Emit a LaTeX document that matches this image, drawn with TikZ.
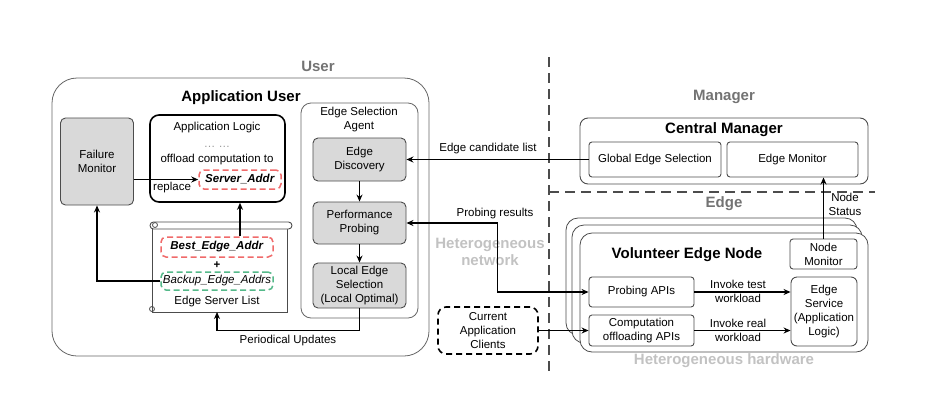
\documentclass[tikz,border=0pt]{standalone}
\usepackage{fontspec}
\setmainfont{Liberation Sans}
\usepackage{xcolor}
\usepackage{tikz}
\usetikzlibrary{arrows.meta, calc, positioning}
\definecolor{boxgray}{HTML}{D9D9D9}
\definecolor{addrred}{HTML}{F06A6A}
\definecolor{addrgreen}{HTML}{55B98A}
\newcommand{\bodyfont}{\fontsize{11.5}{14}\selectfont}
\newcommand{\headfont}{\fontsize{15}{17}\selectfont\bfseries}
\tikzset{
    block/.style={draw=black!70, rounded corners=3pt, line width=0.9pt, align=center, inner sep=1pt, font=\bodyfont},
    graybox/.style={block, fill=boxgray, rounded corners=5pt},
    container/.style={draw=black!60, line width=0.8pt, fill=white},
    addr/.style={dash pattern=on 6pt off 3.5pt, line width=1.5pt, rounded corners=5pt, minimum width=112pt, inner sep=1pt, font=\bodyfont},
    conn/.style={line width=1.6pt, -{Stealth[length=7pt,width=6pt]}},
    zone/.style={text=black!55, font=\headfont},
    hetero/.style={text=black!24, font=\headfont, align=center},
    title/.style={font=\headfont},
    txt/.style={font=\bodyfont, align=center, inner sep=1pt},
    divider/.style={dash pattern=on 10pt off 6pt, line width=1.8pt, draw=black!70}
}

\begin{document}
\begin{tikzpicture}[x=1pt, y=-1pt]
    \useasboundingbox (0,0) rectangle (925,413);
    % user side
    \node[zone] (userlbl) at (318,66) {User};
    \node[container, rounded corners=25pt, minimum width=377pt, minimum height=278pt] (user) at (240.5,217) {};
    \node[title] (appuser) at (241,98) {Application User};
    \node[graybox, minimum width=73pt, minimum height=87pt] (failmon) at (97,161.5) {Failure\\Monitor};
    \node[block, draw=black, line width=1.6pt, rounded corners=9pt, minimum width=135pt, minimum height=87pt] (applogic) at (217.5,158.5) {};
    \node[txt] (logictxt) at (217,128) {Application Logic};
    \node[txt, text=black!40] (dots) at (217,147) {\dots\ \dots};
    \node[txt] (offload) at (217,160) {offload computation to};
    \node[txt, anchor=west] (replace) at (152,188) {replace};
    \node[addr, draw=addrred, minimum width=82pt, minimum height=19pt] (srvaddr) at (240,179.5) {\textbf{\textit{Server\_Addr}}};
    % edge server list (scroll)
    \draw[black!70, line width=0.9pt] (152,226) -- (152,312) -- (287,312) -- (287,229);
    \draw[black!70, line width=0.9pt, fill=white, rounded corners=3.5pt] (150,222) rectangle (292,229);
    \draw[black!70, line width=0.8pt] (155,225) circle[radius=2.5];
    \draw[black!70, line width=0.8pt] (152,309) circle[radius=2.5];
    \coordinate (scrollbot) at (217,312);
    \node[addr, draw=addrred, minimum height=20pt] (bestaddr) at (217,247) {\textbf{\textit{Best\_Edge\_Addr}}};
    \node[txt] (plus) at (217,265) {\textbf{+}};
    \node[addr, draw=addrgreen, minimum height=18pt] (backaddr) at (217,281) {\textit{Backup\_Edge\_Addrs}};
    \node[txt] (eslist) at (217,302) {Edge Server List};
    % edge selection agent
    \node[container, rounded corners=10pt, minimum width=117pt, minimum height=215pt] (agent) at (359.5,210.5) {};
    \node[txt] (agenttxt) at (359,120) {Edge Selection\\Agent};
    \node[graybox, minimum width=93pt, minimum height=43pt] (discovery) at (359.5,159.5) {Edge\\Discovery};
    \node[graybox, minimum width=93pt, minimum height=42pt] (probing) at (359.5,223) {Performance\\Probing};
    \node[graybox, minimum width=93pt, minimum height=45pt] (localsel) at (359.5,285.5) {Local Edge\\Selection\\(Local Optimal)};
    \draw[conn] (discovery) -- (probing);
    \draw[conn] (probing) -- (localsel);
    \draw[conn] (failmon.east |- srvaddr.west) -- (srvaddr.west);
    \draw[conn] (bestaddr.north -| srvaddr.south) -- (srvaddr.south |- applogic.south);
    \draw[conn] (backaddr.west) -| (failmon.south);
    \draw[conn] (localsel.south) -- ++(0,22) -| (scrollbot);
    \node[txt] (updates) at (288,341) {Periodical Updates};
    % divider
    \draw[divider] (549,57) -- (549,372);
    \draw[divider] (549,192) -- (875,192);
    % manager side
    \node[zone] (mgrlbl) at (724,97) {Manager};
    \node[block, rounded corners=8pt, minimum width=288pt, minimum height=66pt] (central) at (724,151) {};
    \node[title] (centraltxt) at (724,130) {Central Manager};
    \node[block, minimum width=132pt, minimum height=35pt] (globalsel) at (655,159.5) {Global Edge Selection};
    \node[block, minimum width=131pt, minimum height=35pt] (edgemon) at (792.5,159.5) {Edge Monitor};
    % edge side
    \node[zone] (edgelbl) at (724,204) {Edge};
    \node[container, draw=black!70, rounded corners=12pt, minimum width=291pt, minimum height=117pt] (back) at (711.5,276.5) {};
    \node[container, draw=black!70, rounded corners=12pt, minimum width=290pt, minimum height=118pt] (middle) at (717,284) {};
    \node[container, draw=black!70, rounded corners=12pt, minimum width=288pt, minimum height=119pt] (front) at (724,292.5) {};
    \node[title] (voltxt) at (687,255) {Volunteer Edge Node};
    \node[block, minimum width=67pt, minimum height=30pt] (nodemon) at (823.5,254) {Node\\Monitor};
    \node[block, minimum width=105pt, minimum height=30pt] (probapi) at (641.5,292) {Probing APIs};
    \node[block, minimum width=105pt, minimum height=31pt] (compapi) at (641.5,330.5) {Computation\\offloading APIs};
    \node[block, rounded corners=6pt, minimum width=66pt, minimum height=69pt] (edgesvc) at (824,311.5) {Edge\\Service\\(Application\\Logic)};
    \node[block, draw=black, dash pattern=on 6pt off 4pt, line width=1.6pt, rounded corners=8pt, minimum width=100pt, minimum height=47pt] (clients) at (488,330.5) {Current\\Application\\Clients};
    \node[hetero] (hetnet) at (490,252) {Heterogeneous\\network};
    \node[hetero] (hethw) at (724,361) {Heterogeneous hardware};
    % connectors
    \draw[conn] (globalsel.west) -- (discovery.east);
    \node[txt] (candtxt) at (488,149) {Edge candidate list};
    \draw[conn, {Stealth[length=7pt,width=6pt]}-{Stealth[length=7pt,width=6pt]}] (probing.east) -- ++(91,0) |- (probapi.west);
    \node[txt] (probtxt) at (495,214) {Probing results};
    \draw[conn] (clients.east) -- (compapi.west);
    \draw[conn] (probapi.east) -- (probapi.east -| edgesvc.west);
    \draw[conn] (compapi.east) -- (compapi.east -| edgesvc.west);
    \node[txt] (testtxt) at (738,291) {Invoke test\\workload};
    \node[txt] (realtxt) at (738,330) {Invoke real\\workload};
    \draw[conn] (nodemon.north) -- (nodemon.north |- edgemon.south);
    \node[txt] (statustxt) at (845,204) {Node\\Status};
\end{tikzpicture}
\end{document}
